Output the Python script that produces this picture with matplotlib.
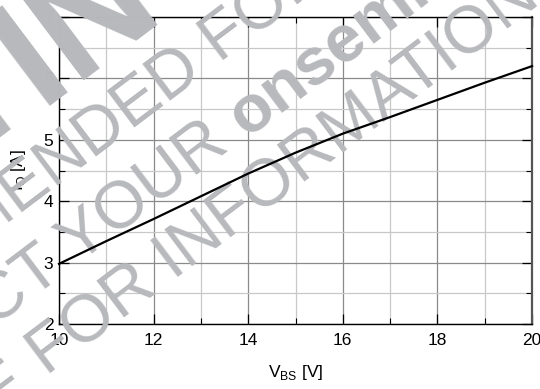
import numpy as np
import matplotlib
matplotlib.use('Agg')
import matplotlib.pyplot as plt
from matplotlib.ticker import MultipleLocator

plt.rcParams['font.family'] = ['Liberation Sans', 'DejaVu Sans']
plt.rcParams['mathtext.fontset'] = 'custom'
plt.rcParams['mathtext.rm'] = 'Liberation Sans'

# ── Data ─────────────────────────────────────────────────────────────────────
v_bs = [10, 11, 12, 13, 14, 15, 16, 17, 18, 19, 20]
i_o  = [2.98, 3.35, 3.71, 4.08, 4.45, 4.79, 5.10, 5.37, 5.65, 5.93, 6.20]

x_ticks = [10, 12, 14, 16, 18, 20]
y_ticks = [2, 3, 4, 5, 6, 7]

W, H = 540, 389
fig = plt.figure(figsize=(W / 100, H / 100), dpi=100)
ax = fig.add_axes([59 / W, 1 - 324 / H, (532 - 59) / W, (324 - 17) / H])

ax.plot(v_bs, i_o, color='black', lw=1.6, zorder=4, clip_on=False)

ax.set_xlim(10, 20)
ax.set_ylim(2, 7)
ax.set_xticks(x_ticks)
ax.set_yticks(y_ticks)
ax.xaxis.set_minor_locator(MultipleLocator(1))
ax.yaxis.set_minor_locator(MultipleLocator(0.5))

ax.grid(which='major', color='#8a8a8a', lw=0.9)
ax.grid(which='minor', color='#c8c8c8', lw=0.9)
ax.set_axisbelow(True)

ax.tick_params(which='both', direction='in', top=True, right=True,
               labelsize=12.5, color='black')
ax.tick_params(which='major', length=7, width=0.9)
ax.tick_params(which='minor', length=4, width=0.8)
ax.tick_params(axis='x', which='major', pad=6.5)
ax.tick_params(axis='y', which='major', pad=4)
for s in ax.spines.values():
    s.set_linewidth(1.0)
ax.spines['right'].set_color('#555555')
ax.spines['right'].set_linewidth(1.6)

ax.set_xlabel(r'V$_\mathregular{BS}$ [V]', fontsize=12.5)
ax.set_ylabel(r'I$_\mathregular{O}$ [A]', fontsize=12.5)
ax.xaxis.set_label_coords(0.5, -(373 - 324) / 307, transform=ax.transAxes)
ax.yaxis.set_label_coords(-(59 - 18) / 473, 0.5)
ax.xaxis.label.set_va('center')
ax.yaxis.label.set_va('center')

# ── Watermark ────────────────────────────────────────────────────────────────
WM = '#b8b9bc'
ANG = 37
FS = 48
d = np.array([np.cos(np.radians(ANG)), -np.sin(np.radians(ANG))])


def wm(txt, px, py, ha='left', weight='normal', fs=FS):
    ax.text(px / W, 1 - py / H, txt, transform=fig.transFigure, rotation=ANG,
            rotation_mode='anchor', ha=ha, va='baseline', fontsize=fs,
            color=WM, fontweight=weight, clip_on=False, zorder=3)


def wm_line(left, right, px, py, right_bold=False):
    gap = 0.278 * FS * 100 / 72
    wm(left, px - gap * d[0], py - gap * d[1], ha='right')
    wm(right, px, py, weight='bold' if right_bold else 'normal')


wm('T', 40, 106, ha='right', weight='bold', fs=113)
wm('IN', 40, 106, weight='bold', fs=113)
wm_line('NOT RECOMMENDED', 'FOR NEW DESIGN', 220, 64)
wm_line('CONTACT YOUR', 'onsemi', 246, 138, right_bold=True)
wm_line('REPRESENTATIVE', 'FOR INFORMATION', 47, 377)

fig.savefig('out.png', dpi=100)
